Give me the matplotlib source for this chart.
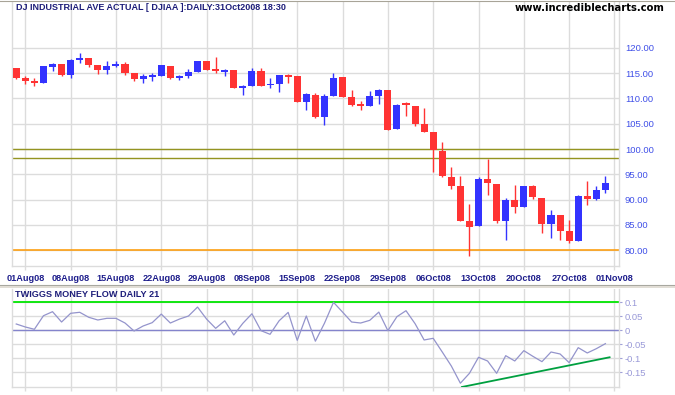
import matplotlib
matplotlib.use("Agg")
import matplotlib.pyplot as plt
import numpy as np

plt.rcParams['font.family'] = ['Liberation Sans', 'DejaVu Sans']

# ---------------- data ----------------
opens = [115.99, 114.02, 113.49, 113.10, 116.19, 116.78, 114.68, 117.57, 117.97, 116.59,
         115.66, 116.39, 116.78, 115.00, 113.76, 114.22, 114.48, 116.39, 114.09, 114.48,
         115.27, 117.38, 115.60, 115.27, 115.60, 112.11, 112.50, 115.40, 112.57, 112.90,
         114.40, 114.42, 109.35, 110.66, 106.32, 110.47, 114.25, 110.27, 108.60, 108.56,
         110.53, 111.65, 104.02, 108.80, 108.49, 105.00, 103.36, 99.67, 94.47, 92.70,
         85.79, 84.80, 94.08, 93.09, 85.85, 89.93, 88.62, 92.70, 90.33, 85.26,
         86.97, 83.81, 81.90, 90.72, 90.20, 91.90]
highs = [115.99, 114.40, 114.02, 116.39, 117.05, 116.78, 117.77, 118.96, 117.97, 116.59,
         117.38, 117.38, 117.24, 115.00, 114.81, 115.00, 116.59, 116.39, 114.68, 115.80,
         117.38, 117.38, 118.17, 115.80, 115.60, 112.70, 116.00, 116.00, 114.09, 114.61,
         114.81, 114.42, 111.12, 111.10, 110.86, 115.00, 114.25, 111.65, 109.41, 111.45,
         111.85, 111.65, 108.89, 109.22, 108.49, 108.10, 103.36, 101.45, 96.44, 94.67,
         89.14, 94.47, 98.09, 93.09, 90.33, 92.90, 92.70, 92.90, 90.33, 87.96,
         86.97, 86.00, 90.92, 93.75, 92.70, 94.74]
lows = [113.89, 112.90, 112.38, 113.10, 115.47, 114.48, 114.09, 117.05, 116.26, 114.88,
        114.88, 116.19, 114.68, 113.49, 113.10, 113.49, 114.48, 113.89, 113.69, 114.09,
        115.27, 115.66, 115.07, 114.48, 112.11, 110.73, 112.50, 112.50, 112.11, 111.32,
        113.10, 109.35, 107.77, 106.10, 104.74, 110.47, 110.20, 108.50, 107.70, 108.56,
        108.95, 103.82, 104.02, 106.58, 104.61, 103.42, 95.53, 94.54, 92.10, 85.85,
        78.94, 84.80, 90.98, 85.46, 82.10, 87.43, 88.62, 90.20, 83.48, 82.50,
        82.10, 81.51, 81.90, 89.01, 89.93, 91.31]
closes = [114.09, 113.49, 113.10, 116.39, 116.78, 114.68, 117.57, 118.03, 116.65, 115.66,
          116.39, 116.85, 115.07, 113.76, 114.42, 114.42, 116.59, 114.09, 114.42, 115.20,
          117.38, 115.66, 115.45, 115.66, 112.11, 112.50, 115.40, 112.50, 112.83, 114.61,
          114.30, 109.35, 110.86, 106.32, 110.47, 114.02, 110.20, 108.69, 108.52, 110.47,
          111.65, 103.82, 108.69, 108.70, 105.00, 103.42, 99.74, 94.73, 92.76, 85.85,
          84.67, 94.08, 93.36, 85.85, 89.93, 88.62, 92.70, 90.59, 85.26, 86.97,
          83.87, 81.90, 90.72, 90.07, 91.90, 93.29]

tmf = [0.0225, 0.0118, 0.0036, 0.0520, 0.0665, 0.0296, 0.0607, 0.0643, 0.0464, 0.0368,
       0.0428, 0.0428, 0.0260, -0.0025, 0.0154, 0.0273, 0.0580, 0.0260, 0.0400, 0.0510,
       0.0830, 0.0400, 0.0070, 0.0340, -0.0168, 0.0250, 0.0590, -0.0013, -0.0143, 0.0340,
       0.0640, -0.0360, 0.0510, -0.0390, 0.0250, 0.1000, 0.0650, 0.0296, 0.0260, 0.0356,
       0.0650, -0.0013, 0.0487, 0.0700, 0.0237, -0.0346, -0.0286, -0.0775, -0.1275, -0.1890,
       -0.1536, -0.0964, -0.1096, -0.1536, -0.0906, -0.1096, -0.0727, -0.0930, -0.1120, -0.0775,
       -0.0846, -0.1156, -0.0620, -0.0810, -0.0656, -0.0477]

date_labels = ['01Aug08', '08Aug08', '15Aug08', '22Aug08', '29Aug08', '08Sep08', '15Sep08',
               '22Sep08', '29Sep08', '06Oct08', '13Oct08', '20Oct08', '27Oct08', '01Nov08']
date_tick_idx = [1, 6, 11, 16, 21, 26, 31, 36, 41, 46, 51, 56, 61, 66]

price_ticks = [80, 85, 90, 95, 100, 105, 110, 115, 120]
tmf_ticks = [-0.15, -0.1, -0.05, 0, 0.05, 0.1]
tmf_tick_labels = ['-0.15', '-0.1', '-0.05', '0', '0.05', '0.1']

olive_levels = [100.0, 98.15]
orange_level = 80.0
tmf_green_level = 0.1
trend_x = [49.17, 65.46]
trend_y = [-0.2025, -0.0964]

# ---------------- style ----------------
W, H = 675, 395
RED = '#FF3333'
BLUE = '#3333FF'
GRID = '#DCDCDC'

def fx(px):
    return px / W

def fy(py):
    return 1 - py / H

fig = plt.figure(figsize=(W / 100, H / 100), dpi=100)
fig.patch.set_facecolor('white')

# main price axes
left_px, right_px = 12, 619
ax = fig.add_axes([fx(left_px), fy(266), fx(right_px - left_px), (266 - 2) / H])
ax.set_xlim(-0.47, 66.5)
ax.set_ylim(76.9, 129.03)

x = np.arange(len(opens))
o = np.array(opens); c = np.array(closes); h = np.array(highs); l = np.array(lows)
up = c >= o
colors = [BLUE if u else RED for u in up]
bottoms = np.minimum(o, c)
heights = np.maximum(np.abs(c - o), 0.3)

ax.vlines(x, l, h, colors=colors, linewidth=1.0, zorder=3)
ax.bar(x, heights, bottom=bottoms, width=0.78, color=colors, linewidth=0, zorder=4)

for lv in olive_levels:
    ax.axhline(lv, color='#949420', linewidth=1.0, zorder=2)
ax.axhline(orange_level, color='#FF9900', linewidth=1.1, zorder=2)

ax.set_yticks(price_ticks)
ax.set_yticklabels(['%.2f' % v for v in price_ticks])
ax.yaxis.tick_right()
ax.set_xticks(date_tick_idx)
ax.set_xticklabels(date_labels)
ax.grid(True, color=GRID, linewidth=1.0, zorder=0)
ax.set_axisbelow(True)
ax.tick_params(axis='y', length=0, pad=4.3, labelsize=6.8, labelcolor='#4050E8')
ax.tick_params(axis='x', direction='out', length=3, width=1.0, color=GRID, pad=2.5,
               labelsize=6.6, labelcolor='#1E1E8C')
for lab in ax.get_xticklabels():
    lab.set_fontweight('bold')
for side in ['left', 'right', 'bottom']:
    ax.spines[side].set_color(GRID)
    ax.spines[side].set_linewidth(1.0)
ax.spines['top'].set_visible(False)

# lower TMF axes
ax2 = fig.add_axes([fx(left_px), fy(387.3), fx(right_px - left_px), (387.3 - 289) / H])
ax2.set_xlim(-0.47, 66.5)
ax2.set_ylim(-0.2036, 0.1475)
ax2.plot(x, tmf, color='#9494CC', linewidth=0.9, zorder=3)
ax2.axhline(0, color='#8484CC', linewidth=1.0, zorder=2)
ax2.axhline(tmf_green_level, color='#00E600', linewidth=1.3, zorder=2)
ax2.plot(trend_x, trend_y, color='#00A040', linewidth=1.3, zorder=4)
ax2.set_yticks(tmf_ticks)
ax2.set_yticklabels(tmf_tick_labels)
ax2.yaxis.tick_right()
ax2.set_xticks(date_tick_idx)
ax2.set_xticklabels([])
ax2.grid(True, color=GRID, linewidth=1.0, zorder=0)
ax2.set_axisbelow(True)
ax2.tick_params(axis='y', length=2, color='#A0A0D8', pad=2.0, labelsize=6.8, labelcolor='#9A9AD8')
ax2.tick_params(axis='x', direction='out', length=3, width=1.0, color=GRID)
for side in ['left', 'right', 'bottom']:
    ax2.spines[side].set_color(GRID)
    ax2.spines[side].set_linewidth(1.0)
ax2.spines['top'].set_visible(False)

# titles
fig.text(fx(16), fy(7.5), 'DJ INDUSTRIAL AVE ACTUAL [ DJIAA ]:DAILY:31Oct2008 18:30',
         fontsize=6.5, fontweight='bold', color='#1E1E7A', ha='left', va='center')
fig.text(fx(665), fy(8), 'www.incrediblecharts.com', fontsize=7.2, fontweight='bold',
         color='black', ha='right', va='center', family=['DejaVu Sans'])
fig.text(fx(15), fy(294.5), 'TWIGGS MONEY FLOW DAILY 21', fontsize=6.6, fontweight='bold',
         color='#1E1E7A', ha='left', va='center')

# frame lines of the figure
fig.add_artist(plt.Line2D([0, 1], [fy(0.5), fy(0.5)], color='#A8A498', linewidth=0.8))
fig.add_artist(plt.Line2D([0, 1], [fy(285.0), fy(285.0)], color='#A8A8A0', linewidth=0.8))
fig.add_artist(plt.Line2D([0, 1], [fy(286.5), fy(286.5)], color='#DCD8CE', linewidth=1.2))

fig.savefig('out.png', dpi=100, facecolor='white')
